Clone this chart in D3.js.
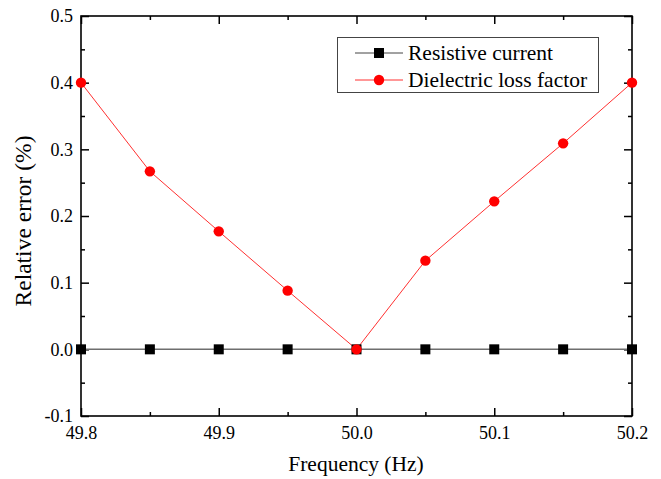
<!DOCTYPE html>
<html>
<head>
<meta charset="utf-8">
<script src="https://cdn.jsdelivr.net/npm/d3@7"></script>
</head>
<body style="margin:0">
<svg id="chart" width="661" height="479" style="display:block;font-family:'Liberation Serif','Times New Roman',Tinos,serif"></svg>
<script>
// Frequency sweep (Hz)
const frequencies = [49.8, 49.85, 49.9, 49.95, 50.0, 50.05, 50.1, 50.15, 50.2];
// Relative error (%) of each measured quantity
const resistiveCurrent = [0, 0, 0, 0, 0, 0, 0, 0, 0];
const dielectricLoss = [0.4, 0.267, 0.177, 0.088, 0.0, 0.133, 0.222, 0.309, 0.4];
const seriesNames = ["Resistive current", "Dielectric loss factor"];
const xTicks = [49.8, 49.9, 50.0, 50.1, 50.2];
const xMinorTicks = [49.85, 49.95, 50.05, 50.15];
const yTicks = [-0.1, 0.0, 0.1, 0.2, 0.3, 0.4, 0.5];
const yMinorTicks = [-0.05, 0.05, 0.15, 0.25, 0.35, 0.45];

const FONT = "Liberation Serif";
const fmt = v => d3.format(".1f")(v).replace("\u2212", "-");

const svg = d3.select("#chart");
const plotLeft = 81, plotRight = 632, plotTop = 16, plotBottom = 416;

const x = d3.scaleLinear().domain([49.8, 50.2]).range([plotLeft, plotRight]);
const y = d3.scaleLinear().domain([-0.1, 0.5]).range([plotBottom, plotTop]);

const majorLen = 8, minorLen = 4;

// Serif label helper
function label(sel, size) {
  return sel.attr("fill", "#000")
    .attr("font-family", FONT)
    .style("font-family", FONT)
    .style("font-size", size + "px");
}

// Frame
svg.append("rect")
  .attr("x", plotLeft).attr("y", plotTop)
  .attr("width", plotRight - plotLeft).attr("height", plotBottom - plotTop)
  .attr("fill", "none").attr("stroke", "#000").attr("stroke-width", 1.6);

// Axes with inward ticks on every side
function addAxis(gen, transform, ticks, len, labels) {
  const g = svg.append("g").attr("transform", transform)
    .call(gen.tickValues(ticks).tickSize(len).tickSizeOuter(0).tickPadding(6)
      .tickFormat(labels ? fmt : ""));
  g.attr("font-family", null).attr("font-size", null);
  g.select(".domain").remove();
  g.selectAll(".tick line").attr("stroke", "#000").attr("stroke-width", 1.5);
  label(g.selectAll(".tick text"), 18);
  return g;
}
// bottom
const gb = addAxis(d3.axisBottom(x), `translate(0,${plotBottom})`, xTicks, -majorLen, true);
gb.selectAll(".tick text").attr("dy", 0).attr("y", 23);
addAxis(d3.axisBottom(x), `translate(0,${plotBottom})`, xMinorTicks, -minorLen, false);
// top
addAxis(d3.axisTop(x), `translate(0,${plotTop})`, xTicks, -majorLen, false);
addAxis(d3.axisTop(x), `translate(0,${plotTop})`, xMinorTicks, -minorLen, false);
// left
const gl = addAxis(d3.axisLeft(y), `translate(${plotLeft},0)`, yTicks, -majorLen, true);
gl.selectAll(".tick text").attr("x", -8);
addAxis(d3.axisLeft(y), `translate(${plotLeft},0)`, yMinorTicks, -minorLen, false);
// right
addAxis(d3.axisRight(y), `translate(${plotRight},0)`, yTicks, -majorLen, false);
addAxis(d3.axisRight(y), `translate(${plotRight},0)`, yMinorTicks, -minorLen, false);

// Axis titles
label(svg.append("text"), 21.5)
  .attr("x", 356).attr("y", 471)
  .attr("text-anchor", "middle")
  .text("Frequency (Hz)");
label(svg.append("text"), 23.5)
  .attr("transform", "translate(31,221) rotate(-90)")
  .attr("text-anchor", "middle")
  .text("Relative error (%)");

// Series
const marks = svg.append("g");
const line = d3.line().x(d => x(d[0])).y(d => y(d[1]));
const blackData = frequencies.map((f, i) => [f, resistiveCurrent[i]]);
const redData = frequencies.map((f, i) => [f, dielectricLoss[i]]);

marks.append("path").datum(blackData).attr("d", line)
  .attr("fill", "none").attr("stroke", "#6e6e6e").attr("stroke-width", 1.5);
marks.append("path").datum(redData).attr("d", line)
  .attr("fill", "none").attr("stroke", "#ff3030").attr("stroke-width", 1);

const sq = 10;
marks.selectAll("rect.pt").data(blackData).enter().append("rect")
  .attr("class", "pt")
  .attr("x", d => x(d[0]) - sq / 2).attr("y", d => y(d[1]) - sq / 2)
  .attr("width", sq).attr("height", sq).attr("fill", "#000");
marks.selectAll("circle.pt").data(redData).enter().append("circle")
  .attr("class", "pt")
  .attr("cx", d => x(d[0])).attr("cy", d => y(d[1])).attr("r", 5.2)
  .attr("fill", "#f00");

// Legend
const lg = svg.append("g");
lg.append("rect").attr("x", 337.5).attr("y", 37.5).attr("width", 261).attr("height", 55)
  .attr("fill", "#fff").attr("stroke", "#444").attr("stroke-width", 1);
const rows = [
  { name: seriesNames[0], color: "#000", line: "#444", shape: "square", y: 53 },
  { name: seriesNames[1], color: "#f00", line: "#ff3030", shape: "circle", y: 80 }
];
rows.forEach(r => {
  lg.append("line").attr("x1", 355).attr("x2", 403).attr("y1", r.y).attr("y2", r.y)
    .attr("stroke", r.line).attr("stroke-width", 1);
  if (r.shape === "square") {
    lg.append("rect").attr("x", 379 - sq / 2).attr("y", r.y - sq / 2)
      .attr("width", sq).attr("height", sq).attr("fill", r.color);
  } else {
    lg.append("circle").attr("cx", 379).attr("cy", r.y).attr("r", 5.2).attr("fill", r.color);
  }
  label(lg.append("text"), 21.5).attr("x", 408).attr("y", r.y + 6.5).text(r.name);
});
</script>
</body>
</html>
